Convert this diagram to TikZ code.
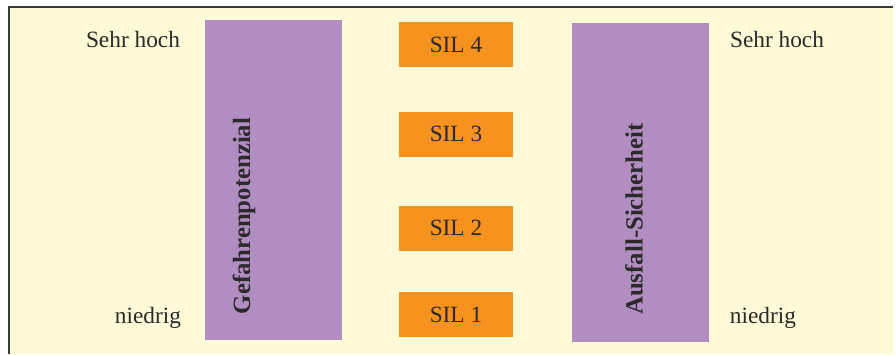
\documentclass[tikz,border=0pt]{standalone}
\usepackage{fontspec}
\setmainfont{Liberation Serif}
\usepackage{xcolor}
\usepackage{tikz}
\definecolor{bgY}{HTML}{FEF9D6}
\definecolor{barP}{HTML}{B28DC2}
\definecolor{silO}{HTML}{F7921E}
\definecolor{frameG}{HTML}{3A3A3A}
\definecolor{txtD}{HTML}{2A2A2A}

\begin{document}
\begin{tikzpicture}[x=0.75pt, y=-0.75pt,
  lbl/.style={font=\fontsize{17.5}{20}\selectfont, text=txtD, inner sep=0pt},
  vlbl/.style={font=\bfseries\fontsize{18.6}{21}\selectfont, text=txtD, inner sep=0pt, rotate=90},
  bar/.style={fill=barP, draw=none, minimum width=102.75pt, inner sep=0pt},
  silbox/.style={lbl, fill=silO, minimum width=85.5pt, minimum height=33.75pt},
  ]
\useasboundingbox (0,0) rectangle (896,354);

% === panel
\fill[bgY] (10,8) rectangle (894,354);
\draw[line width=1.5pt, draw=frameG] (9,354) -- (9,7) -- (893,7);

% === the two bars
\node[bar, minimum height=240pt] (gefahr) at (273.5,180) {};
\node[bar, minimum height=239.25pt] (ausfall) at (640.5,182.5) {};
\node[vlbl] (gefahrT) at (244,216) {Gefahrenpotenzial};
\node[vlbl] (ausfallT) at (634,219) {Ausfall-Sicherheit};

% === SIL levels
\node[silbox] (sil4) at (456,44.5) {SIL 4};
\node[silbox] (sil3) at (456,134) {SIL 3};
\node[silbox] (sil2) at (456,228) {SIL 2};
\node[silbox] (sil1) at (456,314.5) {SIL 1};

% === scale ends
\node[lbl] (hochL) at (133,40) {Sehr hoch};
\node[lbl] (niedL) at (148,318) {niedrig};
\node[lbl] (hochR) at (777,40) {Sehr hoch};
\node[lbl] (niedR) at (763,318) {niedrig};

\end{tikzpicture}
\end{document}
